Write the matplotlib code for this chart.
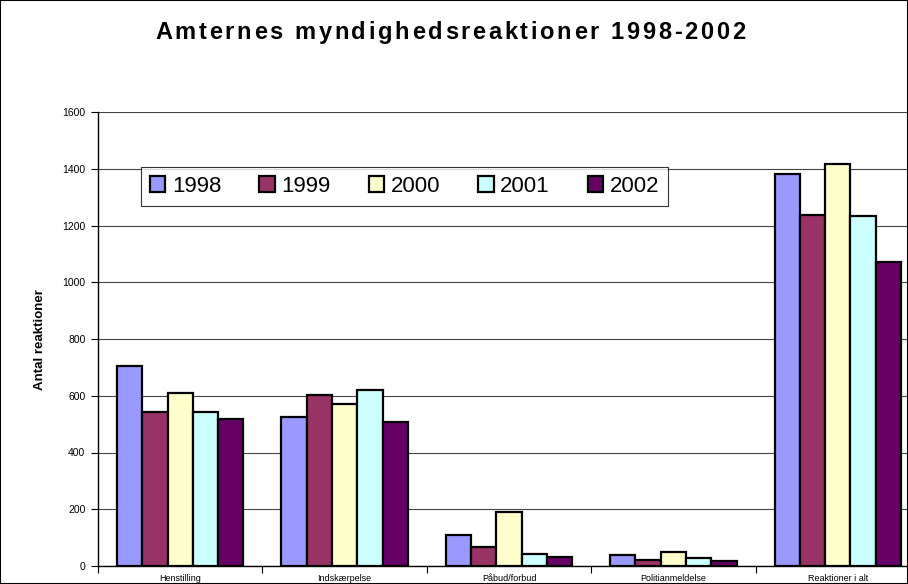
import matplotlib
matplotlib.use('Agg')
import matplotlib.pyplot as plt
from matplotlib.patches import Rectangle
from matplotlib.font_manager import FontProperties
import numpy as np

# Reactions per type and year
categories = ['Henstilling', 'Indskærpelse', 'Påbud/forbud', 'Politianmeldelse', 'Reaktioner i alt']
years = ['1998', '1999', '2000', '2001', '2002']
v1998 = [705, 526, 108, 39, 1381]
v1999 = [543, 604, 68, 20, 1237]
v2000 = [609, 570, 189, 48, 1417]
v2001 = [543, 619, 42, 27, 1232]
v2002 = [518, 506, 32, 17, 1072]
series = [v1998, v1999, v2000, v2001, v2002]
colors = ['#9999FF', '#993366', '#FFFFCC', '#CCFFFF', '#660066']
title = 'Amternes myndighedsreaktioner 1998-2002'

plt.rcParams['font.family'] = ['Liberation Sans', 'DejaVu Sans']

W, H = 908, 584
fig = plt.figure(figsize=(W / 100, H / 100), dpi=100)
fig.patches.append(Rectangle((0, 0), 1, 1, transform=fig.transFigure,
                             fill=False, edgecolor='black', linewidth=1.5))

# plot area runs a bit past the right edge of the figure
ax = fig.add_axes([98 / W, 18 / H, 822 / W, 454 / H])

x = np.arange(len(categories))
width = 0.154
for i, (vals, year, col) in enumerate(zip(series, years, colors)):
    ax.bar(x + (i - 2) * width, vals, width, color=col, edgecolor='black',
           linewidth=1.6, label=year, zorder=3)

ax.set_xlim(-0.5, len(categories) - 0.5)
ax.set_ylim(0, 1600)
ax.set_yticks(range(0, 1601, 200))
ax.yaxis.grid(True, color='#444444', linewidth=0.8, zorder=0)
ax.tick_params(axis='y', labelsize=7.5, length=5, width=0.8, pad=4)

ax.set_xticks(x)
ax.set_xticklabels(categories, fontsize=6.5)
ax.set_xticks(np.arange(-0.5, len(categories)), minor=True)
ax.tick_params(axis='x', which='major', length=0, pad=6)
ax.tick_params(axis='x', which='minor', length=5, width=0.8)

for side in ['top', 'right']:
    ax.spines[side].set_visible(False)
ax.spines['left'].set_linewidth(1.0)
ax.spines['bottom'].set_linewidth(1.0)

fig.text(40 / W, 1 - 340 / H, 'Antal reaktioner', rotation=90, fontsize=9.5,
         fontweight='bold', ha='center', va='center')

# title with extra letter spacing, placed one character at a time
tprop = FontProperties(family=['Liberation Sans', 'DejaVu Sans'], weight='bold', size=17)
renderer = fig.canvas.get_renderer()
def text_w(s):
    if not s:
        return 0.0
    w, _, _ = renderer.get_text_width_height_descent(s, tprop, ismath=False)
    return w
t_left, t_right = 155, 745
natural = text_w(title)
spacing = (t_right - t_left - natural) / (len(title) - 1)
for i, ch in enumerate(title):
    px = t_left + text_w(title[:i]) + i * spacing
    fig.text(px / W, 1 - 39 / H, ch, fontproperties=tprop, ha='left', va='baseline')

leg = ax.legend(ncol=5, loc='upper left', bbox_to_anchor=(141 / W, 1 - 167 / H),
                bbox_transform=fig.transFigure, fontsize=16, frameon=True,
                fancybox=False, edgecolor='black', handlelength=0.7,
                handleheight=0.7, handletextpad=0.3, columnspacing=1.7,
                borderpad=0.4, borderaxespad=0)
leg.get_frame().set_linewidth(0.8)
leg.set_zorder(5)

fig.savefig('out.png', dpi=100)
